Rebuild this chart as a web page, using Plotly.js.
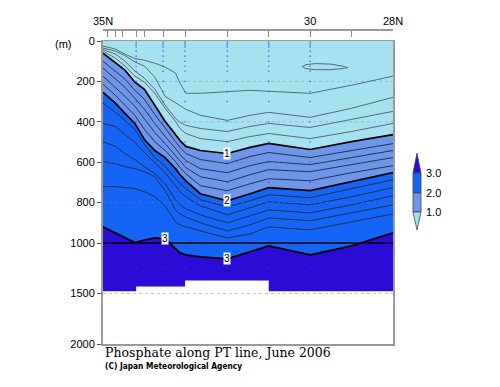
<!DOCTYPE html>
<html><head><meta charset="utf-8">
<script src="https://cdn.plot.ly/plotly-3.0.1.min.js"></script>
<style>body{margin:0;background:#fff}#chart{width:500px;height:387px}</style>
</head><body><div id="chart"></div>
<script>
// Latitude grid (deg N) at which isoline depths were read
const lat = [35.0, 34.7, 34.47, 34.23, 34.0, 33.75, 33.5, 33.25, 33.14, 33.0, 32.65, 32.0, 31.45, 31.0, 30.0, 29.0, 28.0];
// Isoline depths (m), thin lines in the <1.0 band
const isoC1 = [25, 40, 65, 87, 95, 110, 129, 159, 209, 259, 259, 249, 244, 249, 259, 219, 174];
const isoC2 = [35, 50, 72, 104, 124, 179, 274, 308, 323, 338, 368, 393, 368, 353, 378, 333, 279];
const isoC3 = [42, 65, 100, 149, 184, 239, 318, 383, 403, 418, 433, 448, 423, 408, 428, 388, 348];
const isoC4 = [50, 85, 124, 174, 204, 259, 333, 398, 433, 458, 483, 498, 473, 458, 483, 448, 408];
// Bold 1.0 isoline
const iso1 = [60, 110, 144, 204, 239, 318, 398, 463, 493, 522, 542, 557, 527, 507, 537, 498, 463];
// Thin lines in the 1.0-2.0 band
const isoM1 = [100, 149, 189, 244, 289, 363, 433, 498, 527, 557, 587, 607, 572, 552, 577, 542, 508];
const isoM2 = [134, 189, 229, 284, 338, 408, 473, 532, 562, 592, 632, 652, 617, 597, 612, 577, 542];
const isoM3 = [174, 229, 274, 323, 388, 453, 508, 567, 597, 627, 672, 697, 662, 637, 647, 612, 577];
const isoM4 = [214, 269, 318, 368, 438, 498, 542, 597, 627, 657, 716, 741, 707, 682, 692, 652, 617];
// Bold 2.0 isoline
const iso2 = [254, 308, 358, 408, 488, 542, 577, 632, 662, 692, 756, 791, 756, 726, 741, 697, 652];
// Thin lines in the 2.0-3.0 band
const isoB1 = [308, 353, 393, 438, 512, 577, 622, 682, 706, 731, 786, 821, 791, 761, 776, 731, 687];
const isoB2 = [408, 423, 463, 502, 552, 602, 652, 716, 746, 771, 816, 861, 826, 796, 811, 771, 726];
const isoB3 = [498, 522, 557, 587, 622, 657, 706, 786, 811, 831, 861, 900, 866, 836, 851, 811, 766];
const isoB4 = [597, 607, 622, 632, 647, 672, 741, 836, 856, 871, 900, 940, 910, 876, 890, 851, 811];
const isoB5 = [721, 721, 726, 731, 746, 771, 816, 896, 910, 920, 940, 975, 955, 920, 935, 896, 856];
// Bold 3.0 isoline
const iso3 = [920, 950, 975, 998, 985, 975, 980, 1059, 1098, 1118, 1137, 1157, 1088, 1029, 1118, 1029, 950];
// Small closed contour near 30N
const loopLat = [30.19, 30.10, 29.88, 29.52, 29.23, 29.09, 29.23, 29.52, 29.88, 30.10, 30.19];
const loopDepth = [127, 117, 112, 114, 124, 132, 137, 142, 142, 137, 127];
// Deepest data (m)
const bottomLat = [35.0, 34.2, 34.2, 33.02, 33.02, 31.0, 31.0, 28.0];
const bottomDepth = [1477, 1477, 1431, 1431, 1372, 1372, 1477, 1477];
// Stations and sample depths
const stationLat = [34.2, 33.55, 33.02, 32.0, 31.0, 30.0];
const sampleDepth = [0, 10, 20, 30, 50, 75, 100, 125, 150, 200, 250, 300, 400, 500, 600, 700, 800, 900, 1000, 1250];
// Axis ticks
const depthTicks = [0, 200, 400, 600, 800, 1000, 1500, 2000];
const latTicks = [35, 34, 33, 32, 31, 30, 29, 28, 34.9, 34.71, 34.52, 34.2, 33.55];
const latTickText = ['35N', '', '', '', '', '30', '', '28N', '', '', '', '', ''];
const levelColors = ['#a6e1f0', '#6e96eb', '#1464f5', '#2a0cd6'];
const colorbarLabels = ['3.0', '2.0', '1.0'];

// depth axis: linear to 1000 m, half scale below
const T = d => d <= 1000 ? d : 1000 + (d - 1000) / 2;
const TA = a => a.map(T);

const traces = [];
traces.push({x: [lat[0], lat[lat.length - 1]], y: [0, 0], mode: 'lines', line: {width: 0}, hoverinfo: 'skip', showlegend: false});
[[iso1, 0], [iso2, 1], [iso3, 2]].forEach(([a, c]) => {
  traces.push({x: lat, y: TA(a), mode: 'lines', line: {width: 0}, fill: 'tonexty', fillcolor: levelColors[c], hoverinfo: 'skip', showlegend: false});
});
traces.push({x: bottomLat, y: TA(bottomDepth), mode: 'lines', line: {width: 0}, fill: 'tonexty', fillcolor: levelColors[3], hoverinfo: 'skip', showlegend: false});

[isoC1, isoC2, isoC3, isoC4, isoM1, isoM2, isoM3, isoM4, isoB1, isoB2, isoB3, isoB4, isoB5].forEach((a, i) => {
  traces.push({x: lat, y: TA(a), mode: 'lines', line: {width: 0.9, color: i < 4 ? '#4d5e66' : '#1c2a3c'}, hoverinfo: 'skip', showlegend: false});
});
traces.push({x: loopLat, y: TA(loopDepth), mode: 'lines', line: {width: 0.9, color: '#4d5e66'}, hoverinfo: 'skip', showlegend: false});
[iso1, iso2, iso3].forEach(a => {
  traces.push({x: lat, y: TA(a), mode: 'lines', line: {width: 1.7, color: '#000'}, hoverinfo: 'skip', showlegend: false});
});
// sample dots
const sx = [], sy = [];
stationLat.forEach(s => sampleDepth.forEach(d => { sx.push(s); sy.push(T(d)); }));
traces.push({x: sx, y: sy, xaxis: 'x2', mode: 'markers', marker: {size: 1.6, color: 'rgba(60,60,235,0.8)'}, hoverinfo: 'skip', showlegend: false});

// pixel helpers for decoration (plot area 103..393 x 29..344)
const PX = px => (px - 103) / 290, PY = py => (344 - py) / 315;
const pt = (x, y) => PX(x) + ',' + PY(y);
const shapes = [];
[200, 400, 600, 800].forEach(d => shapes.push({type: 'line', xref: 'x', yref: 'y', x0: 35, x1: 28, y0: T(d), y1: T(d), layer: 'above', line: {color: 'rgba(120,130,160,0.4)', width: 1, dash: 'dot'}}));
shapes.push({type: 'line', xref: 'x', yref: 'y', x0: 35, x1: 28, y0: T(1500), y1: T(1500), layer: 'below', line: {color: '#c4c4c4', width: 1, dash: 'dot'}});
shapes.push({type: 'line', xref: 'x', yref: 'y', x0: 35, x1: 28, y0: T(1000), y1: T(1000), layer: 'above', line: {color: '#000', width: 1.3}});
// colorbar
shapes.push({type: 'path', xref: 'paper', yref: 'paper', path: 'M' + pt(417, 153) + 'L' + pt(421, 173) + 'L' + pt(413, 173) + 'Z', fillcolor: levelColors[3], line: {color: '#444', width: 0.8}});
shapes.push({type: 'path', xref: 'paper', yref: 'paper', path: 'M' + pt(413, 173) + 'L' + pt(421, 173) + 'L' + pt(421, 193) + 'L' + pt(413, 193) + 'Z', fillcolor: levelColors[2], line: {color: '#444', width: 0.8}});
shapes.push({type: 'path', xref: 'paper', yref: 'paper', path: 'M' + pt(413, 193) + 'L' + pt(421, 193) + 'L' + pt(421, 212) + 'L' + pt(413, 212) + 'Z', fillcolor: levelColors[1], line: {color: '#444', width: 0.8}});
shapes.push({type: 'path', xref: 'paper', yref: 'paper', path: 'M' + pt(413, 212) + 'L' + pt(421, 212) + 'L' + pt(417, 230) + 'Z', fillcolor: levelColors[0], line: {color: '#444', width: 0.8}});

const font = 'Liberation Sans, Arial, sans-serif';
const ann = [];
[[lat[11], iso1[11], '1'], [lat[11], iso2[11], '2'], [lat[11], iso3[11], '3'], [lat[6], iso3[6], '3']].forEach(([x, d, t]) => {
  ann.push({x: x, y: T(d), xref: 'x', yref: 'y', text: t, showarrow: false, bgcolor: '#fff', borderpad: 0, font: {family: font, size: 10, color: '#000'}});
});
colorbarLabels.forEach((t, i) => ann.push({x: PX(424), y: PY([173, 193, 212][i]), xref: 'paper', yref: 'paper', xanchor: 'left', yanchor: 'middle', text: t, showarrow: false, font: {family: font, size: 11, color: '#000'}}));
ann.push({x: PX(53), y: PY(36), xref: 'paper', yref: 'paper', text: '(m)', showarrow: false, font: {family: font, size: 11, color: '#000'}});
ann.push({x: 0, y: PY(352), xref: 'paper', yref: 'paper', xanchor: 'left', yanchor: 'middle', text: 'Phosphate along PT line, June 2006', showarrow: false, font: {family: 'DejaVu Serif, serif', size: 12.5, color: '#000'}});
ann.push({x: 0, y: PY(366), xref: 'paper', yref: 'paper', xanchor: 'left', yanchor: 'middle', text: '<b>(C) Japan Meteorological Agency</b>', showarrow: false, font: {family: 'Liberation Sans Narrow, DejaVu Sans Condensed, sans-serif', size: 8.3, color: '#000'}});

const layout = {
  width: 500, height: 387,
  margin: {l: 103, r: 107, t: 29, b: 43, pad: 0},
  paper_bgcolor: '#fff', plot_bgcolor: '#fff',
  showlegend: false,
  xaxis: {range: [35, 28], showline: true, mirror: true, linecolor: '#9a9a9a', linewidth: 1.5, ticks: '', showticklabels: false, showgrid: false, zeroline: false},
  xaxis2: {overlaying: 'x', side: 'top', anchor: 'free', position: 1, range: [35, 28], tickmode: 'array', tickvals: latTicks, ticktext: latTickText, ticks: 'inside', ticklen: 6, tickcolor: '#888', showline: true, linecolor: '#9a9a9a', linewidth: 1.5, showgrid: false, zeroline: false, tickfont: {family: font, size: 11, color: '#000'}},
  yaxis: {domain: [0, 303 / 315], range: [T(2000), 0], tickmode: 'array', tickvals: depthTicks.map(T), ticktext: depthTicks.map(String), ticks: 'outside', ticklen: 4, tickcolor: '#555', showline: true, mirror: true, linecolor: '#9a9a9a', linewidth: 2, showgrid: false, zeroline: false, tickfont: {family: font, size: 11, color: '#000'}},
  shapes: shapes,
  annotations: ann
};
Plotly.newPlot('chart', traces, layout, {displayModeBar: false, staticPlot: true});
</script></body></html>
